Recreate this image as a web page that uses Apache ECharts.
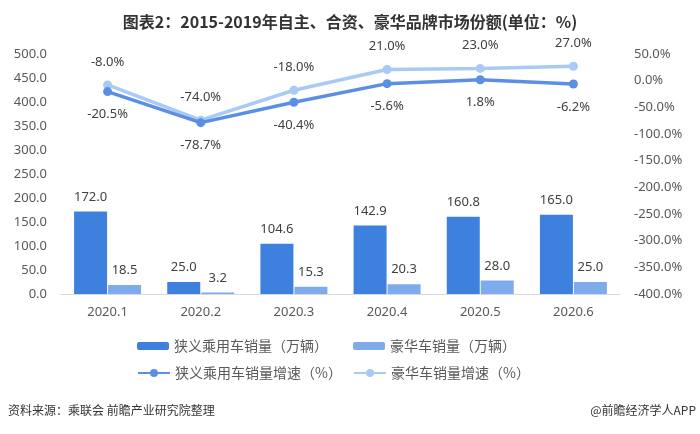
<!DOCTYPE html>
<html><head><meta charset="utf-8">
<script src="https://cdn.jsdelivr.net/npm/echarts@6/dist/echarts.min.js"></script>
<style>html,body{margin:0;padding:0;background:#fff}#c{width:700px;height:434px}</style>
</head><body><div id="c"></div>
<script>
const categories = ['2020.1','2020.2','2020.3','2020.4','2020.5','2020.6'];
const narrowSales = [172.0, 25.0, 104.6, 142.9, 160.8, 165.0];
const luxurySales = [18.5, 3.2, 15.3, 20.3, 28.0, 25.0];
const narrowGrowth = [-20.5, -78.7, -40.4, -5.6, 1.8, -6.2];
const luxuryGrowth = [-8.0, -74.0, -18.0, 21.0, 23.0, 27.0];
const seriesNames = ['狭义乘用车销量（万辆）','豪华车销量（万辆）','狭义乘用车销量增速（%）','豪华车销量增速（%）'];
const titleText = '图表2：2015-2019年自主、合资、豪华品牌市场份额(单位：%)';
const sourceText = '资料来源：乘联会 前瞻产业研究院整理';
const brandText = '@前瞻经济学人APP';

const FONT = "'Noto Sans', 'Noto Sans CJK SC', sans-serif";
const c1 = '#3E80DE', c2 = '#7EABEC', l1 = '#5A8FE4', l2 = '#A8CAF5';
const chart = echarts.init(document.getElementById('c'));
const legendText = {color:'#595959', fontSize:14, fontFamily:"'Noto Sans CJK SC', sans-serif"};
function lg(name, left, top, icon){
  return {data:[name], left:left, top:top, itemWidth:32, itemHeight:icon==='line'?10:8, itemGap:0,
    textStyle:legendText, selectedMode:false, padding:0};
}
chart.setOption({
  animation:false,
  title:{text:titleText, left:'center', top:9, textStyle:{fontSize:16, fontWeight:'bold', color:'#333', fontFamily:"'Noto Sans CJK SC', sans-serif"}},
  legend:[lg(seriesNames[0],137,339,'rect'), lg(seriesNames[1],353,339,'rect'), lg(seriesNames[2],137,366,'line'), lg(seriesNames[3],353,366,'line')],
  grid:{left:61, right:80, top:54, bottom:140},
  xAxis:{type:'category', data:categories, axisTick:{show:false}, axisLine:{lineStyle:{color:'#D9D9D9'}},
    axisLabel:{color:'#595959', fontSize:13, margin:12, fontFamily:FONT}},
  yAxis:[
    {type:'value', min:0, max:500, interval:50, splitLine:{show:false}, axisLine:{show:false}, axisTick:{show:false},
      axisLabel:{color:'#595959', fontSize:13, margin:14, fontFamily:FONT, formatter:v=>v.toFixed(1)}},
    {type:'value', min:-400, max:50, interval:50, splitLine:{show:false}, axisLine:{show:false}, axisTick:{show:false},
      axisLabel:{color:'#595959', fontSize:13, margin:14, fontFamily:FONT, formatter:v=>v.toFixed(1)+'%'}}
  ],
  series:[
    {name:seriesNames[0], type:'bar', data:narrowSales, barWidth:33, barGap:'3%', itemStyle:{color:c1},
      label:{show:true, position:'top', distance:8, color:'#404040', fontSize:13, fontFamily:FONT, formatter:p=>p.value.toFixed(1)}},
    {name:seriesNames[1], type:'bar', data:luxurySales, barWidth:33, itemStyle:{color:c2},
      label:{show:true, position:'top', distance:8, color:'#404040', fontSize:13, fontFamily:FONT, formatter:p=>p.value.toFixed(1)}},
    {name:seriesNames[2], type:'line', yAxisIndex:1, data:narrowGrowth, symbol:'circle', symbolSize:9, z:5,
      lineStyle:{color:l1, width:3.5}, itemStyle:{color:l1},
      label:{show:true, position:'bottom', distance:12, color:'#404040', fontSize:13, fontFamily:FONT, formatter:p=>p.value.toFixed(1)+'%'}},
    {name:seriesNames[3], type:'line', yAxisIndex:1, data:luxuryGrowth, symbol:'circle', symbolSize:9, z:4,
      lineStyle:{color:l2, width:3.5}, itemStyle:{color:l2},
      label:{show:true, position:'top', distance:12, color:'#404040', fontSize:13, fontFamily:FONT, formatter:p=>p.value.toFixed(1)+'%'}}
  ],
  graphic:[
    {type:'text', left:8, top:404, style:{text:sourceText, fill:'#333', fontSize:12, fontFamily:"'Noto Sans CJK SC', sans-serif"}},
    {type:'text', right:4, top:404, style:{text:brandText, fill:'#333', fontSize:12, fontFamily:"'Noto Sans CJK SC', sans-serif"}}
  ]
});
</script></body></html>
